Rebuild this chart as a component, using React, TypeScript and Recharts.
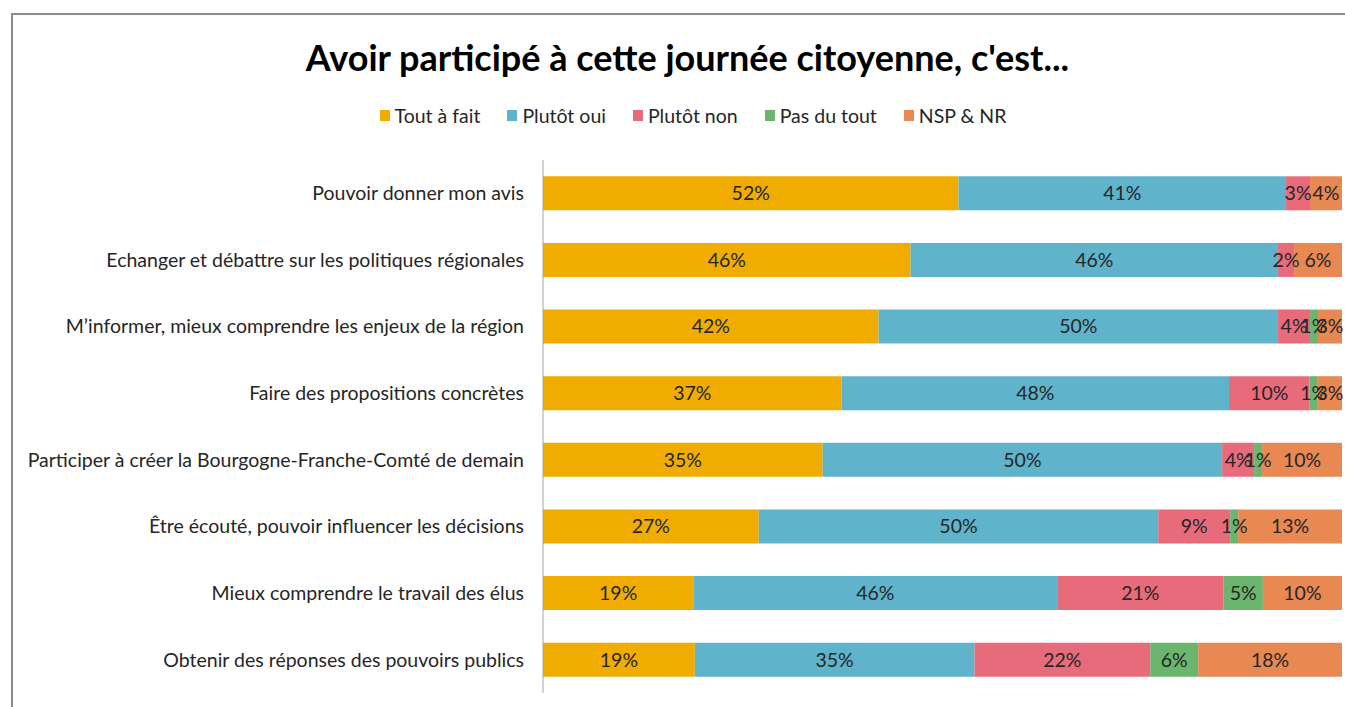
import React from "react";
import { BarChart, Bar, XAxis, YAxis, LabelList } from "recharts";

const categories = [
  "Pouvoir donner mon avis",
  "Echanger et débattre sur les politiques régionales",
  "M’informer, mieux comprendre les enjeux de la région",
  "Faire des propositions concrètes",
  "Participer à créer la Bourgogne-Franche-Comté de demain",
  "Être écouté, pouvoir influencer les décisions",
  "Mieux comprendre le travail des élus",
  "Obtenir des réponses des pouvoirs publics",
];

const toutAFait = [52, 46, 42, 37, 35, 27, 19, 19];
const plutotOui = [41, 46, 50, 48, 50, 50, 46, 35];
const plutotNon = [3, 2, 4, 10, 4, 9, 21, 22];
const pasDuTout = [0, 0, 1, 1, 1, 1, 5, 6];
const nspNr = [4, 6, 3, 3, 10, 13, 10, 18];

const series = [
  { key: "tout", name: "Tout à fait", color: "#F0AC00" },
  { key: "oui", name: "Plutôt oui", color: "#5FB3CB" },
  { key: "non", name: "Plutôt non", color: "#E86B7C" },
  { key: "pas", name: "Pas du tout", color: "#6BB56F" },
  { key: "nsp", name: "NSP & NR", color: "#E88853" },
];

const data = categories.map((name, i) => ({
  name,
  tout: toutAFait[i],
  oui: plutotOui[i],
  non: plutotNon[i],
  pas: pasDuTout[i],
  nsp: nspNr[i],
}));

const FONT = "Lato, 'Open Sans', sans-serif";

export default function App() {
  return (
    <div style={{ position: "absolute", left: 0, top: 0, width: 1345, height: 707, background: "#fff", fontFamily: FONT }}>
      <div
        style={{
          position: "absolute",
          left: 11,
          top: 13,
          width: 1334,
          height: 694,
          borderTop: "2px solid #8c8c8c",
          borderLeft: "2px solid #8c8c8c",
        }}
      />
      <div
        style={{
          position: "absolute",
          top: 35,
          left: 0,
          width: 1375,
          textAlign: "center",
          fontSize: 36,
          fontWeight: 700,
          color: "#000",
        }}
      >
        Avoir participé à cette journée citoyenne, c'est...
      </div>
      {/* légende */}
      <div
        style={{
          position: "absolute",
          top: 104,
          left: 0,
          width: 1386,
          display: "flex",
          justifyContent: "center",
          gap: 27,
          fontSize: 19.5,
          color: "#262626",
        }}
      >
        {series.map((s) => (
          <div key={s.key} style={{ display: "flex", alignItems: "center" }}>
            <span style={{ width: 10, height: 11, background: s.color, marginRight: 5, display: "inline-block" }} />
            <span>{s.name}</span>
          </div>
        ))}
      </div>
      <div style={{ position: "absolute", left: 0, top: 0 }}>
        <BarChart
          width={1345}
          height={707}
          data={data}
          layout="vertical"
          stackOffset="expand"
          barCategoryGap="24.5%"
          margin={{ top: 160, right: 3, bottom: 14, left: 0 }}
        >
          <XAxis type="number" hide domain={[0, 1]} />
          <YAxis
            type="category"
            dataKey="name"
            width={543}
            axisLine={{ stroke: "#a6a6a6", strokeWidth: 1 }}
            tickLine={false}
            tickSize={0}
            tickMargin={19}
            interval={0}
            tick={{ fontSize: 19.5, fill: "#262626", fontFamily: FONT }}
          />
          {series.map((s) => (
            <Bar key={s.key} dataKey={s.key} name={s.name} stackId="a" fill={s.color} isAnimationActive={false}>
              <LabelList
                dataKey={s.key}
                position="center"
                formatter={(v: number) => `${v}%`}
                style={{ fontSize: 19.5, fill: "#262626", fontFamily: FONT }}
              />
            </Bar>
          ))}
        </BarChart>
      </div>
    </div>
  );
}
